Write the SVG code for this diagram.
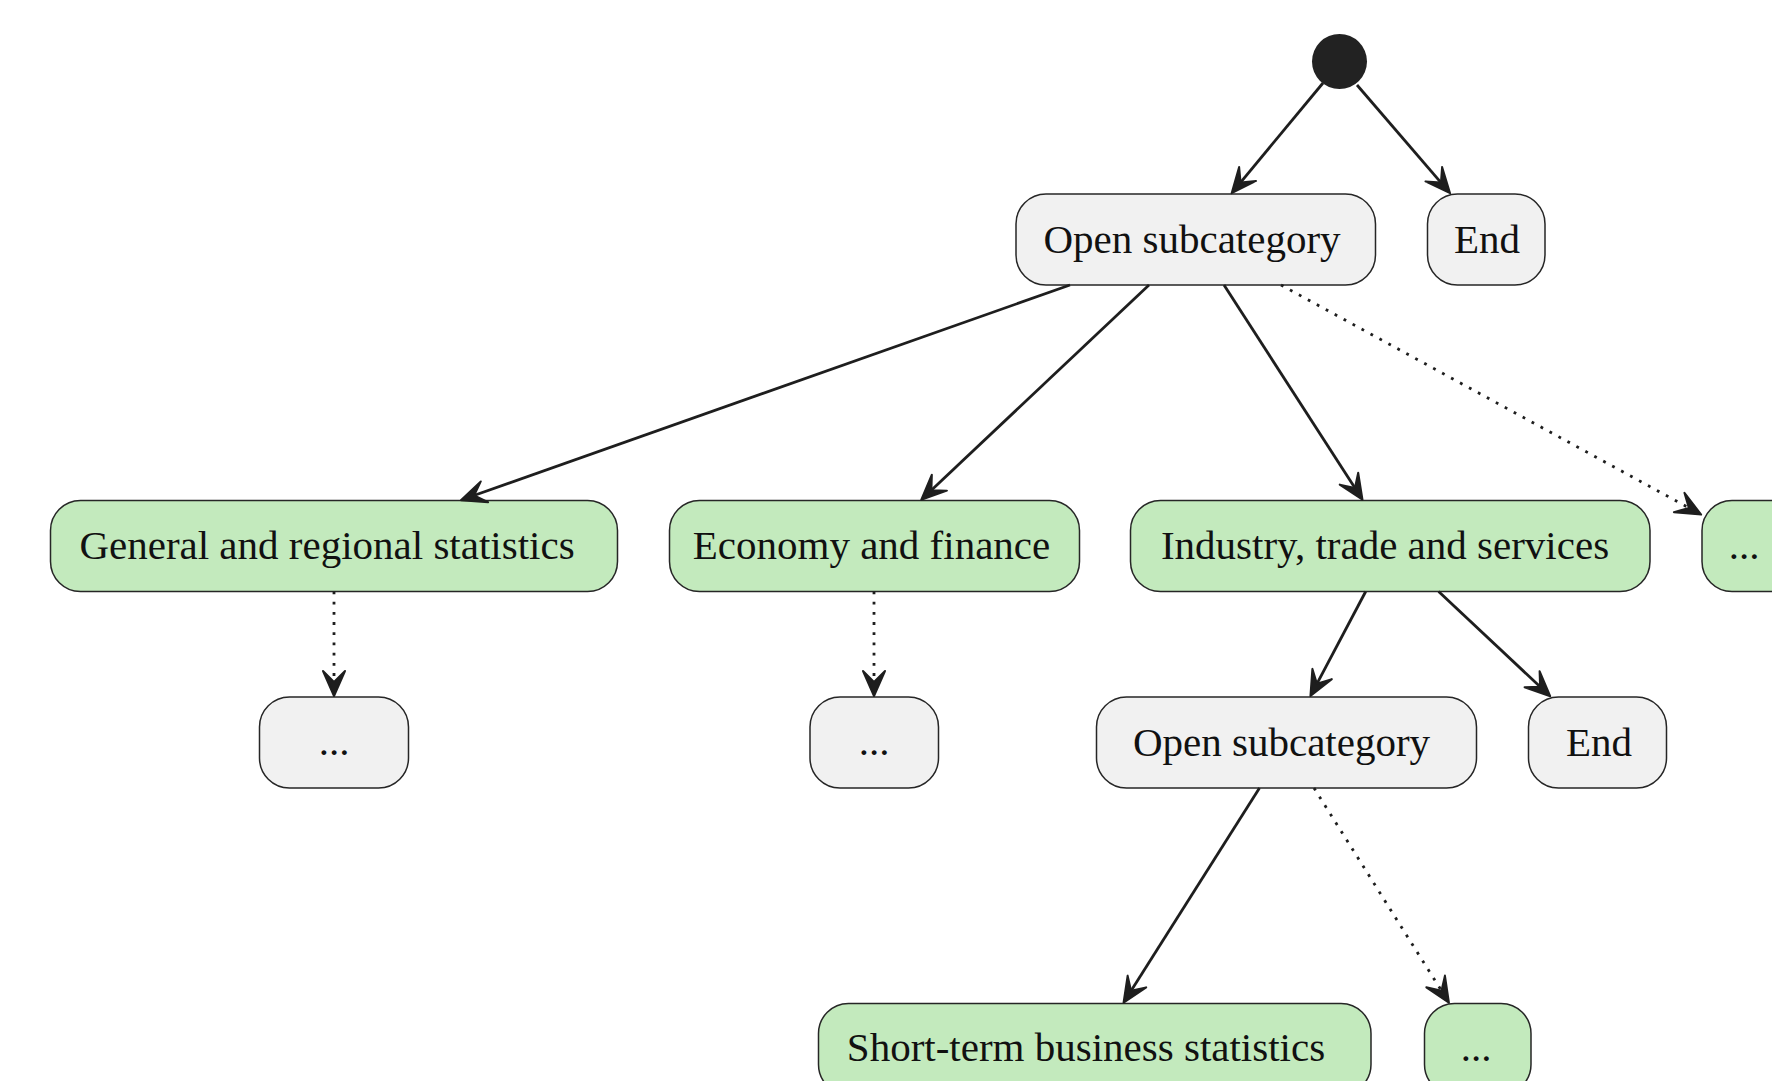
<svg xmlns="http://www.w3.org/2000/svg" width="1772" height="1081" viewBox="0 0 1772 1081">
<style>
.g rect{fill:#F1F1F1;stroke:#262626;stroke-width:1.5}
.gr rect{fill:#C3EABD;stroke:#262626;stroke-width:1.5}
text{font-family:"Liberation Serif","DejaVu Serif",serif;font-size:41px;fill:#111;text-anchor:middle}
.c{fill:none;stroke:#1E1E1E;stroke-width:2.8}
.d{fill:none;stroke:#1E1E1E;stroke-width:2.8;stroke-dasharray:2.8 7.4}
</style>
<defs>
<marker id="ah" viewBox="-30 -15 32 30" refX="-8" refY="0" markerWidth="32" markerHeight="30" markerUnits="userSpaceOnUse" orient="auto">
<path d="M-1,0 L-26,-11 L-15,0 L-26,11 Z" fill="#1E1E1E" stroke="#1E1E1E" stroke-width="2" stroke-linejoin="round"/>
</marker>
</defs>
<rect width="1772" height="1081" fill="#FFFFFF"/>
<g id="start"><circle cx="1339.5" cy="61.5" r="27.5" fill="#222222"/></g>
<g id="open1" class="g"><rect x="1016" y="194" width="359.5" height="91" rx="30"/><text x="1192" y="253">Open subcategory</text></g>
<g id="end1" class="g"><rect x="1427.5" y="194" width="117.5" height="91" rx="30"/><text x="1487" y="253">End</text></g>
<g id="general" class="gr"><rect x="50.5" y="500.5" width="567" height="91" rx="30"/><text x="327" y="559">General and regional statistics</text></g>
<g id="economy" class="gr"><rect x="669.5" y="500.5" width="410" height="91" rx="30"/><text x="871.5" y="559">Economy and finance</text></g>
<g id="industry" class="gr"><rect x="1130.5" y="500.5" width="519.5" height="91" rx="30"/><text x="1385" y="559">Industry, trade and services</text></g>
<g id="more1" class="gr"><rect x="1702" y="500.5" width="107" height="91" rx="30"/><text x="1744" y="559">...</text></g>
<g id="dots1" class="g"><rect x="259.5" y="697" width="149" height="91" rx="30"/><text x="334" y="755">...</text></g>
<g id="dots2" class="g"><rect x="810" y="697" width="128.5" height="91" rx="30"/><text x="874" y="755">...</text></g>
<g id="open2" class="g"><rect x="1096.5" y="697" width="380" height="91" rx="30"/><text x="1281.5" y="755.5">Open subcategory</text></g>
<g id="end2" class="g"><rect x="1528.5" y="697" width="138" height="91" rx="30"/><text x="1599" y="755.5">End</text></g>
<g id="shortterm" class="gr"><rect x="818.5" y="1003.5" width="552.5" height="91" rx="30"/><text x="1086" y="1061">Short-term business statistics</text></g>
<g id="more2" class="gr"><rect x="1424.5" y="1003.5" width="106.5" height="91" rx="30"/><text x="1476" y="1061">...</text></g>
<g id="connectors">
<path class="c" marker-end="url(#ah)" d="M1323,83 L1236.1,187.8"/>
<path class="c" marker-end="url(#ah)" d="M1357,85 L1445.5,187.9"/>
<path class="c" marker-end="url(#ah)" d="M1070,285 L467.5,497.8"/>
<path class="c" marker-end="url(#ah)" d="M1149,285 L926.3,495"/>
<path class="c" marker-end="url(#ah)" d="M1224,285 L1358.7,493.8"/>
<path class="d" marker-end="url(#ah)" d="M1281,285 L1695,511.2"/>
<path class="d" marker-end="url(#ah)" d="M334,591.5 L334,689"/>
<path class="d" marker-end="url(#ah)" d="M874,591.5 L874,689"/>
<path class="c" marker-end="url(#ah)" d="M1365.7,591.5 L1313.7,689.9"/>
<path class="c" marker-end="url(#ah)" d="M1438.6,591.5 L1545.2,691.5"/>
<path class="c" marker-end="url(#ah)" d="M1259.5,788 L1127.3,996.7"/>
<path class="d" marker-end="url(#ah)" d="M1314,788 L1445.2,996.7"/>
</g>
</svg>
